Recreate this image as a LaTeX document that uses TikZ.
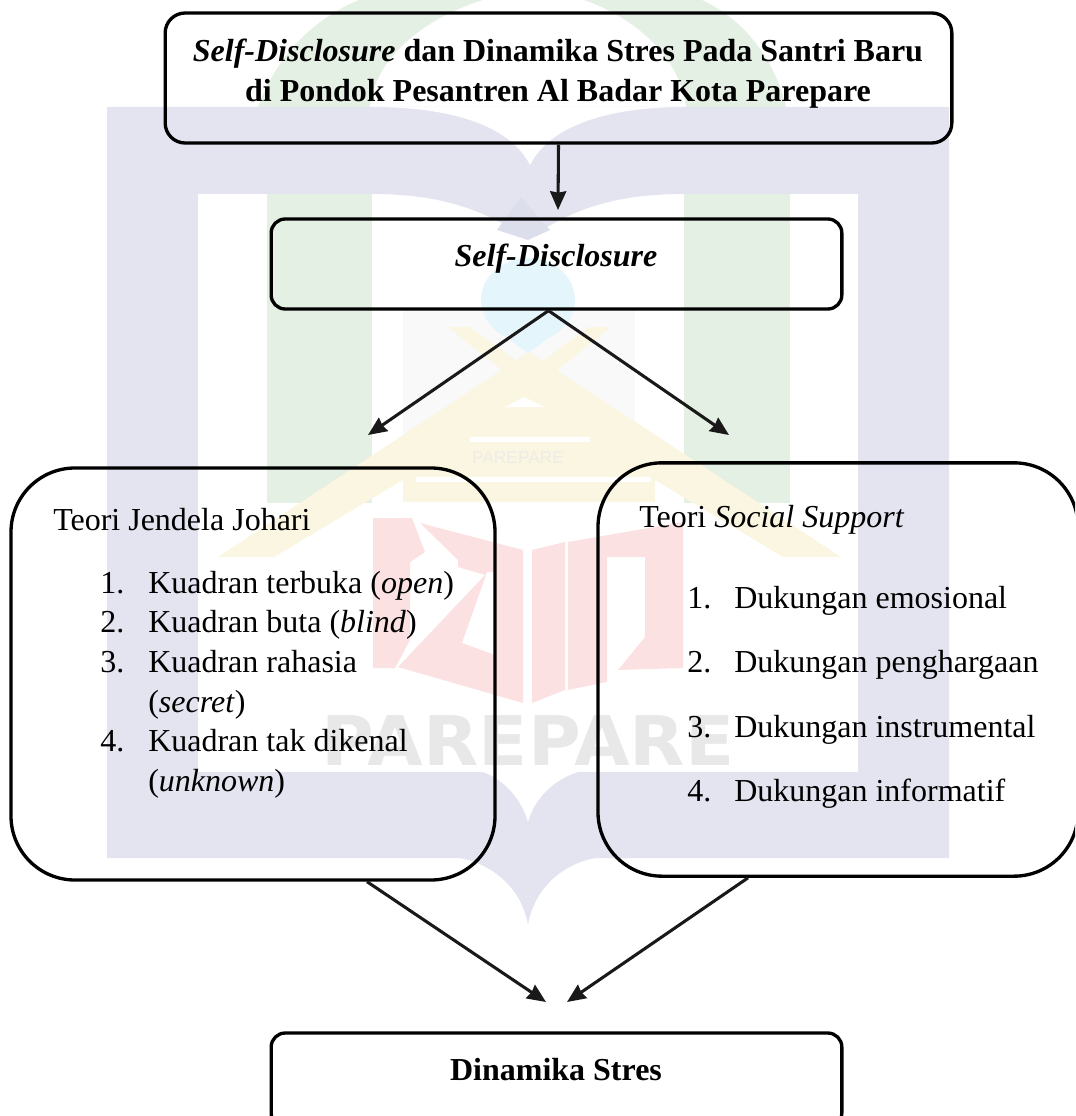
\documentclass[tikz,border=0pt]{standalone}
\usepackage{fontspec}
\setmainfont{Liberation Serif}
\newfontfamily\wmfont{DejaVu Sans}
\newfontfamily\wmkecil{Liberation Sans}
\usetikzlibrary{arrows.meta}
\definecolor{wmblue}{HTML}{E3E4F0}
\definecolor{wmdark}{HTML}{DCDEEC}
\definecolor{wmgreen}{HTML}{E4F0E3}
\definecolor{wmyellow}{HTML}{FBF6E1}
\definecolor{wmred}{HTML}{FBE1E2}
\definecolor{wmgray}{HTML}{E8E8E8}
\definecolor{wmpale}{HTML}{F9F9F9}
\definecolor{wmcyan}{HTML}{E5F5FC}
\tikzset{
    box/.style={draw, line width=2.5pt, rounded corners=#1, inner sep=0pt},
    box/.default=10.5pt,
    isi/.style={anchor=base west, inner sep=0pt, yshift=-1.6pt, font=\fontsize{24}{28}\selectfont},
    judul/.style={anchor=base, inner sep=0pt, yshift=-1.6pt, font=\fontsize{24}{28}\selectfont\bfseries},
    panah/.style={-{Stealth[length=14pt,width=12pt,inset=1pt]}, line width=2.3pt, color=black!90}
}
\begin{document}
\begin{tikzpicture}[x=0.75pt, y=-0.75pt]
        \useasboundingbox (0,0) rectangle (1075,1116);
        \clip (0,0) rectangle (1075,1116);
        % watermark
        \fill[wmgreen] (258,107) .. controls (275,60) and (310,20) .. (359,0) -- (702,0) .. controls (745,20) and (775,60) .. (786,107) -- cycle;
        \fill[white] (370,107) .. controls (375,60) and (420,20) .. (483,0) -- (584,0) .. controls (640,20) and (680,60) .. (686,107) -- cycle;
        \fill[wmblue, even odd rule] (107,107) rectangle (949,858) (198,194) rectangle (858,772);
        \fill[white] (372,107) .. controls (450,107) and (510,125) .. (530,165) .. controls (550,125) and (610,107) .. (684,107) -- cycle;
        \fill[wmblue] (372,194) .. controls (430,194) and (480,205) .. (528,240) .. controls (575,205) and (625,194) .. (684,194) -- cycle;
        \fill[wmdark] (521,197) -- (497,230) -- (528,240) -- (550,230) -- cycle;
        \fill[white] (483,772) .. controls (505,780) and (522,800) .. (528,822) .. controls (534,800) and (552,780) .. (578,772) -- cycle;
        \fill[wmblue] (460,858) .. controls (495,865) and (522,890) .. (528,925) .. controls (534,890) and (560,865) .. (595,858) -- cycle;
        \fill[wmgreen] (267,194) rectangle (372,503);
        \fill[wmgreen] (684,194) rectangle (790,503);
        \fill[wmpale] (403,310) rectangle (635,467);
        \fill[wmcyan] (528,300) ellipse [x radius=47, y radius=42];
        \fill[wmcyan] (490,325) -- (528,353) -- (566,325) -- cycle;
        \fill[wmyellow] (218,557) -- (529,352) -- (841,557) -- (783,557) -- (655,480) -- (655,502) -- (403,502) -- (403,480) -- (274,557) -- cycle;
        \fill[wmyellow] (448,327) -- (470,327) -- (610,430) -- (590,440) -- cycle;
        \fill[wmyellow] (611,327) -- (589,327) -- (450,430) -- (470,440) -- cycle;
        \fill[white] (524,397) -- (505,407) -- (545,407) -- cycle;
        \fill[white] (470,437) rectangle (590,442);
        \fill[white] (416,477) rectangle (651,482);
        \fill[wmred] (373,518) -- (412,518) -- (425,552) -- (410,562) -- (410,640) -- (395,668) -- (373,668) -- cycle;
        \fill[wmred, even odd rule] (420,523) -- (523,550) -- (523,703) -- (398,667) -- (485,575) -- (458,567) -- (458,560) -- cycle
            (487,572) -- (462,643) -- (495,655) -- (495,572) -- cycle;
        \fill[wmred] (532,550) -- (565,542) -- (565,690) -- (532,703) -- cycle;
        \fill[wmred] (568,542) -- (683,522) -- (683,668) -- (618,670) -- (645,637) -- (645,557) -- (607,557) -- (607,682) -- (568,690) -- cycle;
        \node[inner sep=0pt, anchor=base, text=wmgray, xscale=1.05, font=\wmfont\bfseries\fontsize{51.4}{52}\selectfont] (kota) at (528,765) {PAREPARE};
        \node[inner sep=0pt, anchor=base, text=wmgray!70!wmyellow, font=\wmkecil\fontsize{13}{13}\selectfont] (kotakecil) at (518,463) {PAREPARE};
        % boxes
        \node[box=15pt, minimum width=590pt, minimum height=97.5pt] (utama) at (558.5,78) {};
        \node[box, minimum width=428pt, minimum height=67.5pt] (diri) at (556.5,264) {};
        \node[box=48pt, minimum width=363pt, minimum height=309pt] (johari) at (253,674) {};
        \node[box=48pt, minimum width=360pt, minimum height=310pt] (sosial) at (838,669.5) {};
        \node[box, minimum width=428pt, minimum height=70.5pt] (stres) at (556.5,1080) {};
        % box texts
        \node[judul] (utamaA) at (558,59) {\textit{Self-Disclosure} dan Dinamika Stres Pada Santri Baru};
        \node[judul] (utamaB) at (558,99) {di Pondok Pesantren Al Badar Kota Parepare};
        \node[judul] (diriT) at (556,264) {\textit{Self-Disclosure}};
        \node[judul] (stresT) at (556,1078) {Dinamika Stres};
        \node[isi] (johariT) at (53,528) {Teori Jendela Johari};
        \node[isi] (j1) at (100,591) {1.};
        \node[isi] (j1t) at (148,591) {Kuadran terbuka (\textit{open})};
        \node[isi] (j2) at (100,630) {2.};
        \node[isi] (j2t) at (148,630) {Kuadran buta (\textit{blind})};
        \node[isi] (j3) at (100,670) {3.};
        \node[isi] (j3t) at (148,670) {Kuadran rahasia};
        \node[isi] (j3u) at (148,710) {(\textit{secret})};
        \node[isi] (j4) at (100,749) {4.};
        \node[isi] (j4t) at (148,749) {Kuadran tak dikenal};
        \node[isi] (j4u) at (148,789) {(\textit{unknown})};
        \node[isi] (sosialT) at (639,525) {Teori \textit{Social Support}};
        \node[isi] (s1) at (687,606) {1.};
        \node[isi] (s1t) at (734,606) {Dukungan emosional};
        \node[isi] (s2) at (687,670) {2.};
        \node[isi] (s2t) at (734,670) {Dukungan penghargaan};
        \node[isi] (s3) at (687,735) {3.};
        \node[isi] (s3t) at (734,735) {Dukungan instrumental};
        \node[isi] (s4) at (687,799) {4.};
        \node[isi] (s4t) at (734,799) {Dukungan informatif};
        % arrows
        \coordinate (ujungA) at (558,210);
        \coordinate (ujungJ) at (368,435);
        \coordinate (ujungS) at (729,435);
        \coordinate (ujungK) at (546,1002);
        \coordinate (ujungL) at (567,1002);
        \draw[panah] (utama.south) -- (ujungA);
        \draw[panah] ([xshift=-6pt]diri.south) -- (ujungJ);
        \draw[panah] ([xshift=-6pt]diri.south) -- (ujungS);
        \draw[panah] ([xshift=85.5pt]johari.south) -- (ujungK);
        \draw[panah] ([xshift=-67.5pt]sosial.south) -- (ujungL);
\end{tikzpicture}
\end{document}
